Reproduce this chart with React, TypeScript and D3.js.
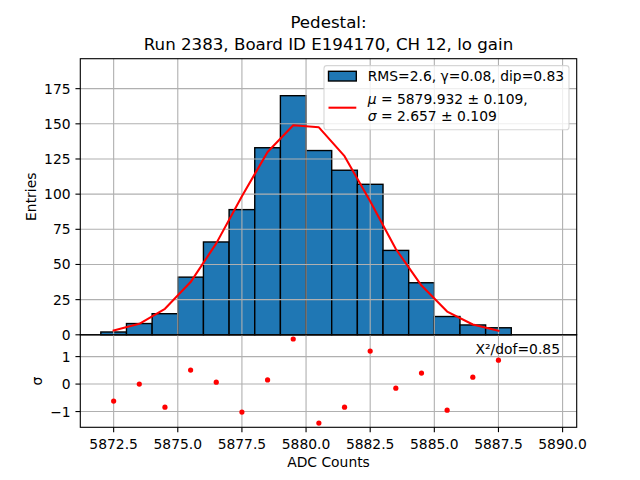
import React from 'react';
import * as d3 from 'd3';

// histogram: bins of width 1 starting at 5872
const binEdges = [5872, 5873, 5874, 5875, 5876, 5877, 5878, 5879, 5880, 5881, 5882, 5883, 5884, 5885, 5886, 5887, 5888];
const counts = [2, 8, 15, 41, 66, 89, 133, 170, 131, 117, 107, 60, 37, 13, 7, 5];

// gaussian fit evaluated at bin centers
const binCenters = [5872.5, 5873.5, 5874.5, 5875.5, 5876.5, 5877.5, 5878.5, 5879.5, 5880.5, 5881.5, 5882.5, 5883.5, 5884.5, 5885.5, 5886.5, 5887.5];
const fitValues = [3.0, 7.8, 18.5, 37.5, 65, 98.5, 130, 149, 147.5, 127, 95, 61, 35, 16.5, 7.3, 2.8];

// normalised residuals
const residuals = [-0.62, 0.0, -0.84, 0.51, 0.07, -1.02, 0.15, 1.64, -1.42, -0.84, 1.2, -0.15, 0.4, -0.95, 0.25, 0.87];

const xTicks = [5872.5, 5875.0, 5877.5, 5880.0, 5882.5, 5885.0, 5887.5, 5890.0];
const yTicks = [0, 25, 50, 75, 100, 125, 150, 175];
const resTicks = [-1, 0, 1];

const titleLines = ['Pedestal:', 'Run 2383, Board ID E194170, CH 12, lo gain'];
const histLabel = 'RMS=2.6, γ=0.08, dip=0.83';
const chi2Label = 'X²/dof=0.85';

const FONT = 'DejaVu Sans, sans-serif';
const GRID = '#b0b0b0';

const App: React.FC = () => {
  const left = 80.3;
  const right = 576.7;
  const top = 58.7;
  const split = 334.8;
  const bottom = 427.3;

  const x = d3.scaleLinear().domain([5871.2, 5890.55]).range([left, right]);
  const y = d3.scaleLinear().domain([0, 196.3]).range([split, top]);

  const [rMin, rMax] = d3.extent(residuals) as [number, number];
  const pad = (rMax - rMin) * 0.05;
  const yr = d3.scaleLinear().domain([rMin - pad, rMax + pad]).range([bottom, split]);

  const fitLine = d3.line<number>()
    .x((_, i) => x(binCenters[i]))
    .y(d => y(d));

  const fmtMinus = (v: number) => (v < 0 ? '\u2212' + Math.abs(v) : String(v));

  return (
    <svg width={640} height={480} style={{ position: 'absolute', left: 0, top: 0, background: 'white' }}
      fontFamily={FONT}>
      <rect x={0} y={0} width={640} height={480} fill="white" />

      {/* title */}
      {titleLines.map((t, i) => (
        <text key={t} x={(left + right) / 2} y={28.3 + i * 21.2} textAnchor="middle" fontSize={16.67} fill="black">{t}</text>
      ))}

      {/* histogram bars */}
      <g>
        {counts.map((c, i) => (
          <rect key={i}
            x={x(binEdges[i])}
            y={y(c)}
            width={x(binEdges[i + 1]) - x(binEdges[i])}
            height={y(0) - y(c)}
            fill="#1f77b4" stroke="black" strokeWidth={1.39} />
        ))}
      </g>

      {/* grid, main */}
      <g stroke={GRID} strokeWidth={1.1}>
        {xTicks.map(t => (
          <line key={'gx' + t} x1={x(t)} x2={x(t)} y1={top} y2={split} />
        ))}
        {yTicks.map(t => (
          <line key={'gy' + t} x1={left} x2={right} y1={y(t)} y2={y(t)} />
        ))}
      </g>

      {/* fit */}
      <path d={fitLine(fitValues) || ''} fill="none" stroke="red" strokeWidth={2.08} strokeLinejoin="round" strokeLinecap="square" />

      {/* main frame */}
      <rect x={left} y={top} width={right - left} height={split - top} fill="none" stroke="black" strokeWidth={1.11} />

      {/* main y axis */}
      <g fontSize={13.89} fill="black">
        {yTicks.map(t => (
          <g key={'ty' + t}>
            <line x1={left - 4.86} x2={left} y1={y(t)} y2={y(t)} stroke="black" strokeWidth={1.11} />
            <text x={left - 9.7} y={y(t)} dy="0.36em" textAnchor="end">{t}</text>
          </g>
        ))}
      </g>
      <text transform={`translate(36,${(top + split) / 2}) rotate(-90)`} textAnchor="middle" fontSize={13.89}>Entries</text>

      {/* legend */}
      <g>
        <rect x={324} y={65.6} width={245} height={64.1} rx={2.8} fill="white" fillOpacity={0.8}
          stroke="#cccccc" strokeOpacity={0.8} strokeWidth={1.11} />
        <rect x={328.5} y={71.3} width={27.8} height={9.7} fill="#1f77b4" stroke="black" strokeWidth={1.39} />
        <text x={367.7} y={80.8} fontSize={13.89}>{histLabel}</text>
        <line x1={328.5} x2={356.3} y1={107.7} y2={107.7} stroke="red" strokeWidth={2.08} />
        <text x={367.7} y={103.6} fontSize={13.89}>
          <tspan fontStyle="italic">μ</tspan> = 5879.932 ± 0.109,
        </text>
        <text x={367.7} y={121} fontSize={13.89}>
          <tspan fontStyle="italic">σ</tspan> = 2.657 ± 0.109
        </text>
      </g>

      {/* residual grid */}
      <g stroke={GRID} strokeWidth={1.1}>
        {xTicks.map(t => (
          <line key={'rgx' + t} x1={x(t)} x2={x(t)} y1={split} y2={bottom} />
        ))}
        {resTicks.map(t => (
          <line key={'rgy' + t} x1={left} x2={right} y1={yr(t)} y2={yr(t)} />
        ))}
      </g>

      {/* residual points */}
      <g fill="red">
        {residuals.map((r, i) => (
          <circle key={i} cx={x(binCenters[i])} cy={yr(r)} r={2.6} />
        ))}
      </g>

      <text x={560} y={353.7} textAnchor="end" fontSize={13.89}>{chi2Label}</text>

      {/* residual frame */}
      <rect x={left} y={split} width={right - left} height={bottom - split} fill="none" stroke="black" strokeWidth={1.11} />

      {/* residual y axis */}
      <g fontSize={13.89} fill="black">
        {resTicks.map(t => (
          <g key={'rt' + t}>
            <line x1={left - 4.86} x2={left} y1={yr(t)} y2={yr(t)} stroke="black" strokeWidth={1.11} />
            <text x={left - 9.7} y={yr(t)} dy="0.36em" textAnchor="end">{fmtMinus(t)}</text>
          </g>
        ))}
      </g>
      <text transform={`translate(41.5,${(split + bottom) / 2}) rotate(-90)`} textAnchor="middle" fontSize={13.89}>σ</text>

      {/* x axis */}
      <g fontSize={13.89} fill="black">
        {xTicks.map(t => (
          <g key={'tx' + t}>
            <line x1={x(t)} x2={x(t)} y1={bottom} y2={bottom + 4.86} stroke="black" strokeWidth={1.11} />
            <text x={x(t)} y={449} textAnchor="middle">{t.toFixed(1)}</text>
          </g>
        ))}
      </g>
      <text x={(left + right) / 2} y={467.3} textAnchor="middle" fontSize={13.89}>ADC Counts</text>
    </svg>
  );
};

export default App;
